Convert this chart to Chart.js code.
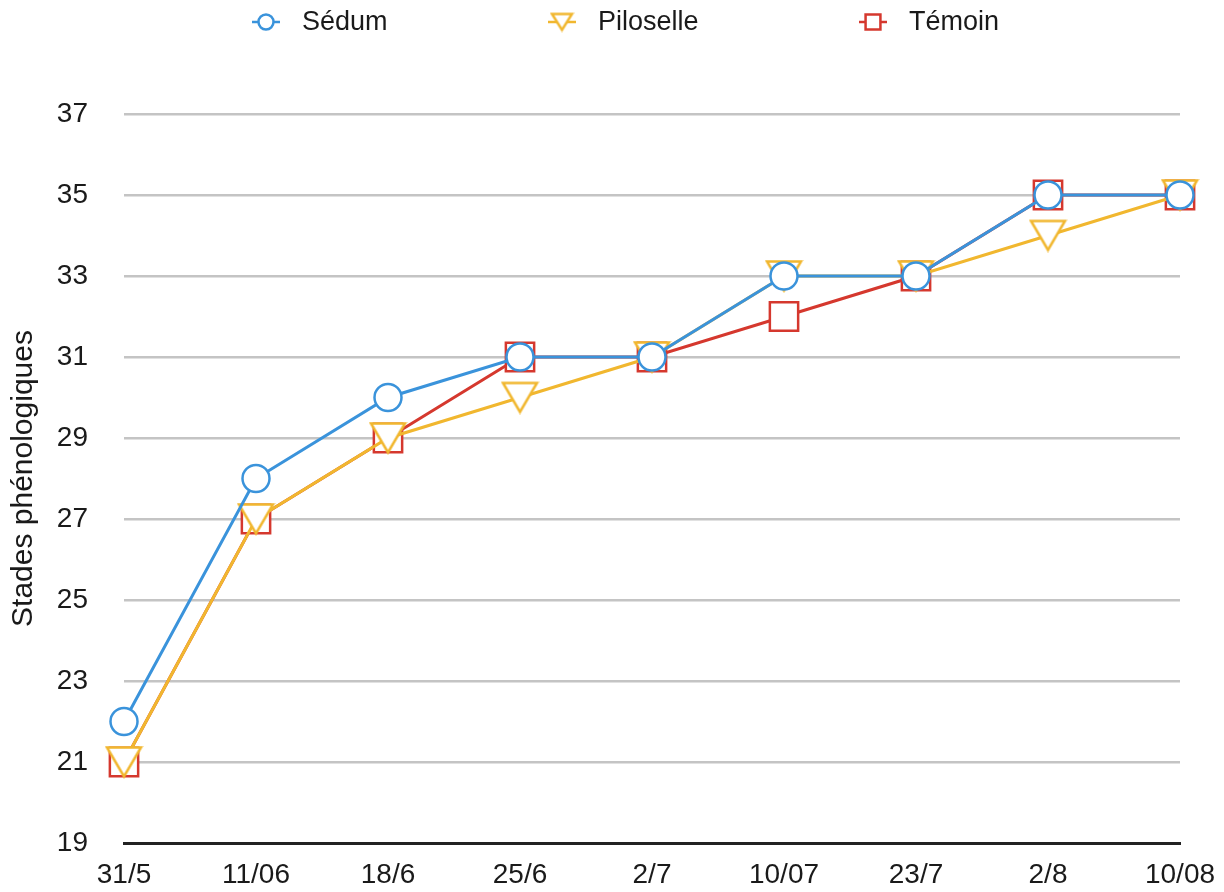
<!DOCTYPE html>
<html lang="fr">
<head>
<meta charset="utf-8">
<title>Stades phénologiques</title>
<script src="https://cdn.jsdelivr.net/npm/chart.js@4.4.1/dist/chart.umd.min.js"></script>
<style>
  html, body { margin: 0; padding: 0; background: #ffffff; }
  #wrap { width: 1224px; height: 892px; position: relative; }
</style>
</head>
<body>
<div id="wrap"><canvas id="chart" width="1224" height="892"></canvas></div>
<script>
// Dates de relevé
const dates = ['31/5', '11/06', '18/6', '25/6', '2/7', '10/07', '23/7', '2/8', '10/08'];

// Stades phénologiques moyens par traitement
const sedum     = [22, 28, 30, 31, 31, 33, 33, 35, 35];
const piloselle = [21, 27, 29, 30, 31, 33, 33, 34, 35];
const temoin    = [21, 27, 29, 31, 31, 32, 33, 35, 35];

const seriesNames = ['Sédum', 'Piloselle', 'Témoin'];
const yTicks = [19, 21, 23, 25, 27, 29, 31, 33, 35, 37];

const FONT = '"Liberation Sans", Arial, Helvetica, sans-serif';
const BLUE = '#3a93db';
const YELLOW = '#f1b72f';
const RED = '#d5382e';

// Downward triangle marker, centred on its bounding box
function downTriangle(w, h, color, lw) {
  const c = document.createElement('canvas');
  c.width = Math.ceil(w + lw * 2);
  c.height = Math.ceil(h + lw * 2);
  const g = c.getContext('2d');
  const x0 = (c.width - w) / 2, y0 = (c.height - h) / 2;
  g.beginPath();
  g.moveTo(x0, y0);
  g.lineTo(x0 + w, y0);
  g.lineTo(x0 + w / 2, y0 + h);
  g.closePath();
  g.fillStyle = '#ffffff';
  g.fill();
  g.lineWidth = lw;
  g.lineJoin = 'miter';
  g.strokeStyle = color;
  g.stroke();
  return c;
}
const triBig = downTriangle(34, 29, YELLOW, 2.5);
const triSmall = downTriangle(20, 16, YELLOW, 2.5);

const styles = [
  { color: BLUE,   pointStyle: 'circle', radius: 13.5, legend: { pointStyle: 'circle', radius: 7.5 } },
  { color: YELLOW, pointStyle: triBig,   radius: 18,   legend: { pointStyle: triSmall, radius: 9 } },
  { color: RED,    pointStyle: 'rect',   radius: 20,   legend: { pointStyle: 'rect', radius: 10.5 } }
];
const values = [sedum, piloselle, temoin];

// Legend drawn across the top: line segment with marker, then the name
const topLegend = {
  id: 'topLegend',
  afterDraw(chart, args, opts) {
    const ctx = chart.ctx;
    ctx.save();
    chart.data.datasets.forEach((ds, i) => {
      const cx = opts.markerX[i];
      const cy = opts.y;
      const st = styles[i];
      ctx.strokeStyle = st.color;
      ctx.lineWidth = 2.5;
      ctx.beginPath();
      ctx.moveTo(cx - 14, cy);
      ctx.lineTo(cx + 14, cy);
      ctx.stroke();
      ctx.fillStyle = '#ffffff';
      ctx.strokeStyle = st.color;
      ctx.lineWidth = 2.5;
      Chart.helpers.drawPoint(ctx, {
        pointStyle: st.legend.pointStyle,
        radius: st.legend.radius,
        rotation: 0,
        borderWidth: 2.5
      }, cx, cy);
      ctx.fillStyle = '#1a1a1a';
      ctx.font = '27px ' + FONT;
      ctx.textBaseline = 'middle';
      ctx.textAlign = 'left';
      ctx.fillText(ds.label, cx + 36, cy + 1);
    });
    ctx.restore();
  }
};

const datasets = seriesNames.map((name, i) => ({
  label: name,
  data: values[i],
  borderColor: styles[i].color,
  backgroundColor: '#ffffff',
  borderWidth: 3,
  pointStyle: styles[i].pointStyle,
  pointRadius: styles[i].radius,
  pointBorderWidth: 2.5,
  pointBorderColor: styles[i].color,
  pointBackgroundColor: '#ffffff',
  pointHoverRadius: styles[i].radius,
  tension: 0,
  fill: false
}));

new Chart(document.getElementById('chart'), {
  type: 'line',
  data: { labels: dates, datasets },
  plugins: [topLegend],
  options: {
    responsive: false,
    animation: false,
    events: [],
    layout: { padding: { top: 114, right: 44, bottom: 0, left: 0 } },
    plugins: {
      legend: { display: false },
      tooltip: { enabled: false },
      topLegend: { y: 22, markerX: [266, 562, 873] }
    },
    scales: {
      x: {
        type: 'category',
        offset: false,
        grid: { display: false, drawTicks: false },
        border: { display: true, color: '#222222', width: 3 },
        ticks: {
          autoSkip: false,
          maxRotation: 0,
          padding: 15,
          color: '#1a1a1a',
          font: { family: FONT, size: 28 }
        },
        afterFit(scale) {
          scale.height = 49;
          scale.paddingLeft = 0;
          scale.paddingRight = 0;
        }
      },
      y: {
        min: 19,
        max: 37,
        afterBuildTicks(scale) { scale.ticks = yTicks.map(v => ({ value: v })); },
        grid: {
          drawTicks: false,
          lineWidth: 2.5,
          color: (c) => (c.tick && c.tick.value === 19) ? 'rgba(0,0,0,0)' : '#c4c4c4'
        },
        border: { display: false },
        ticks: {
          padding: 36,
          color: '#1a1a1a',
          font: { family: FONT, size: 28 }
        },
        title: {
          display: true,
          text: 'Stades phénologiques',
          color: '#1a1a1a',
          font: { family: FONT, size: 30 },
          padding: { top: 6, bottom: 0 }
        },
        afterFit(scale) {
          scale.width = 124;
          scale.paddingTop = 0;
          scale.paddingBottom = 0;
        }
      }
    }
  }
});
</script>
</body>
</html>
